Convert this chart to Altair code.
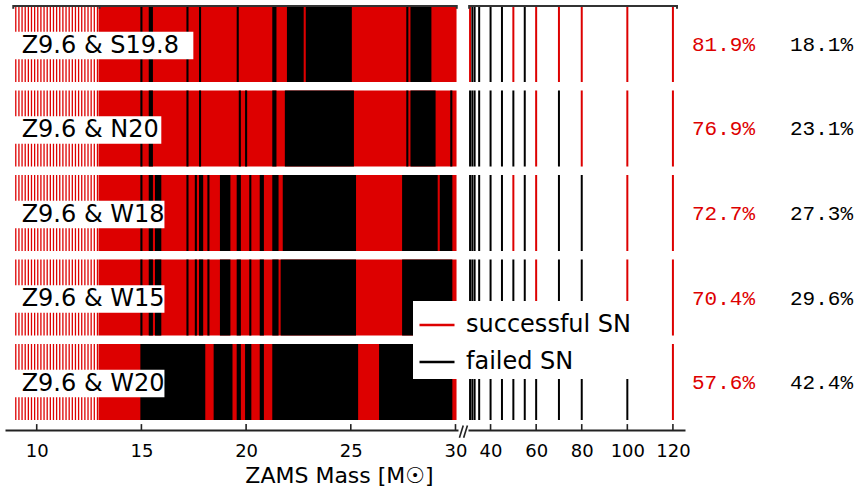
import altair as alt
import pandas as pd

RED = "#dd0000"
BLACK = "#000000"
SANS = "DejaVu Sans"
MONO = "Liberation Mono"

ROWS = ["Z9.6 & S19.8", "Z9.6 & N20", "Z9.6 & W18", "Z9.6 & W15", "Z9.6 & W20"]
SUCCESS_PCT = ["81.9%", "76.9%", "72.7%", "70.4%", "57.6%"]
FAILED_PCT = ["18.1%", "23.1%", "27.3%", "29.6%", "42.4%"]

# low-mass models (all successful with Z9.6)
LOW_MASSES = [9.0, 9.15, 9.3, 9.45, 9.6, 9.75, 9.9, 10.05, 10.2, 10.35, 10.5, 10.65, 10.8,
              10.95, 11.1, 11.25, 11.4, 11.55, 11.7, 11.85, 12.0, 12.15, 12.3, 12.45, 12.6,
              12.75, 12.9]

# 13-30 Msun models: range, and failed runs (first, last model mass) per row
MID_RANGE = (13.0, 30.0)
FAILED_MID = [
    [(15.0, 15.0), (15.4, 15.5), (17.2, 17.2), (17.8, 17.8), (19.6, 19.6), (21.3, 21.4),
     (22.0, 22.7), (22.9, 25.0), (27.7, 27.7), (27.9, 28.8)],
    [(15.0, 15.0), (15.4, 15.5), (17.2, 17.2), (17.8, 17.8), (19.7, 19.7), (20.0, 20.0),
     (21.3, 21.4), (21.9, 25.1), (27.7, 27.7), (27.9, 29.0), (29.8, 29.8)],
    [(15.0, 15.0), (15.4, 15.5), (15.7, 15.9), (17.2, 17.2), (17.6, 17.6), (17.8, 17.9),
     (18.2, 18.2), (18.8, 19.2), (19.6, 19.7), (20.2, 20.2), (20.7, 20.8), (21.3, 21.5),
     (21.8, 25.2), (27.5, 29.1), (29.3, 29.8)],
    [(15.0, 15.0), (15.4, 15.5), (15.7, 15.9), (17.2, 17.2), (17.6, 17.6), (17.8, 17.9),
     (18.2, 18.2), (18.8, 19.2), (19.6, 19.7), (20.2, 20.2), (20.7, 20.8), (21.3, 21.5),
     (21.7, 25.2), (27.5, 29.8)],
    [(15.0, 18.0), (18.5, 19.3), (19.6, 19.7), (20.0, 20.2), (20.7, 20.8), (21.3, 25.3),
     (26.4, 29.8)],
]

HIGH_MASSES = [31, 32, 33, 35, 40, 45, 50, 55, 60, 70, 80, 100, 120]
HIGH_OUTCOME = ["SFFFFFSFSSSSS", "FFFFFFFFSFSSS", "FFFFFFSFSFFSS", "FFFFFFFFSFFSS",
                "FFFFFFFFFFFFS"]

LEFT_TICKS = [10, 15, 20, 25, 30]
RIGHT_TICKS = [40, 60, 80, 100, 120]
LEFT_BRACKETS = [(8.88, 13.0), (13.0, 30.06)]
RIGHT_BRACKETS = [(30.6, 121.8)]
LABEL_BOX_END = [17.48, 15.95, 16.1, 16.1, 16.1]

SUCC, FAIL = "successful SN", "failed SN"
HALF = 0.45
HALF_STEP = 0.05
Y_TOP, Y_BOT = -0.4615, 4.568

ys = alt.Scale(domain=[Y_TOP, Y_BOT], reverse=True, nice=False, zero=False)
cs = alt.Scale(domain=[SUCC, FAIL], range=[RED, BLACK])

# ---------- tables ----------
stripes = pd.DataFrame([{"x": m, "y": r - HALF, "y2": r + HALF, "outcome": SUCC}
                        for r in range(5) for m in LOW_MASSES])
mid_rows = []
for r in range(5):
    mid_rows.append({"x": MID_RANGE[0] - HALF_STEP, "x2": MID_RANGE[1] + HALF_STEP,
                     "y": r - HALF, "y2": r + HALF, "outcome": SUCC})
    for lo, hi in FAILED_MID[r]:
        mid_rows.append({"x": lo - HALF_STEP, "x2": hi + HALF_STEP,
                         "y": r - HALF, "y2": r + HALF, "outcome": FAIL})
mid = pd.DataFrame(mid_rows)
high = pd.DataFrame([{"x": m, "y": r - HALF, "y2": r + HALF,
                      "outcome": SUCC if HIGH_OUTCOME[r][i] == "S" else FAIL}
                     for r in range(5) for i, m in enumerate(HIGH_MASSES)])
boxes = pd.DataFrame([{"x": 8.96, "x2": LABEL_BOX_END[r], "y": r - 0.146, "y2": r + 0.181}
                      for r in range(5)])
labels = pd.DataFrame([{"x": 9.28, "y": r, "label": ROWS[r]} for r in range(5)])
pct = pd.DataFrame([{"x": 0, "y": r, "label": SUCCESS_PCT[r], "outcome": SUCC} for r in range(5)]
                   + [{"x": 1, "y": r, "label": FAILED_PCT[r], "outcome": FAIL} for r in range(5)])

TICK_LEN = 0.07


def ticks_df(vals):
    return pd.DataFrame([{"x": v, "y": Y_BOT, "y2": Y_BOT - TICK_LEN} for v in vals])


axis_common = dict(ticks=False, grid=False, domainColor="#222222", domainWidth=1.8,
                   labelFont=SANS, labelFontSize=18, labelColor="black", labelPadding=12)

xl = alt.Scale(domain=[8.485, 30.12], nice=False, zero=False)
left_axis = alt.Axis(values=LEFT_TICKS, title="ZAMS Mass [M\u2609]", titleFont=SANS,
                     titleFontSize=22, titleFontWeight="normal", titleColor="black",
                     titleX=334, titleY=35, titleBaseline="top", **axis_common)
xr = alt.Scale(domain=[30.1, 125.3], nice=False, zero=False)
right_axis = alt.Axis(values=RIGHT_TICKS, title=None, **axis_common)

legend = alt.Legend(orient="none", legendX=408, legendY=296, title=None,
                    symbolType="stroke", symbolSize=1225, symbolStrokeWidth=2.5,
                    labelFont=SANS, labelFontSize=24, labelColor="black", labelOffset=10,
                    labelLimit=400, fillColor="white", padding=5, rowPadding=6, zindex=5)
color_enc = alt.Color("outcome:N", scale=cs, legend=legend)


def X(xs, ax):
    return alt.X("x:Q", scale=xs, axis=ax)


Y = alt.Y("y:Q", scale=ys, axis=None)


def brackets_layers(br, xs, ax):
    h = pd.DataFrame([{"x": a, "x2": b, "y": Y_TOP + 0.012} for a, b in br])
    ends = sorted(set([v for ab in br for v in ab]))
    v = pd.DataFrame([{"x": e, "y": Y_TOP, "y2": Y_TOP + 0.045} for e in ends])
    l1 = alt.Chart(h).mark_rule(color="#333333", strokeWidth=2).encode(
        x=X(xs, ax), x2="x2:Q", y=Y)
    l2 = alt.Chart(v).mark_rule(color="#333333", strokeWidth=2).encode(
        x=X(xs, ax), y=Y, y2="y2:Q")
    return [l1, l2]


# ---------- left panel ----------
l_stripes = alt.Chart(stripes).mark_rule(strokeWidth=1.3).encode(
    x=X(xl, left_axis), y=Y, y2="y2:Q", color=color_enc)
l_mid = alt.Chart(mid).mark_rect(strokeWidth=0).encode(
    x=X(xl, left_axis), x2="x2:Q", y=Y, y2="y2:Q", color=color_enc)
l_box = alt.Chart(boxes).mark_rect(color="white").encode(
    x=X(xl, left_axis), x2="x2:Q", y=Y, y2="y2:Q")
l_lab = alt.Chart(labels).mark_text(align="left", baseline="alphabetic", dy=8.7,
                                    font=SANS, fontSize=24, color="black").encode(
    x=X(xl, left_axis), y=Y, text="label:N")
l_ticks = alt.Chart(ticks_df(LEFT_TICKS)).mark_rule(color="#222222", strokeWidth=1.6).encode(
    x=X(xl, left_axis), y=Y, y2="y2:Q")
brk = pd.DataFrame([{"x": 30.19, "x2": 30.37, "y": 4.66, "y2": 4.515},
                    {"x": 30.39, "x2": 30.57, "y": 4.66, "y2": 4.515}])
l_break = alt.Chart(brk).mark_rule(color="#222222", strokeWidth=1.6).encode(
    x=X(xl, left_axis), x2="x2:Q", y=Y, y2="y2:Q")

left = alt.layer(l_stripes, l_mid, l_box, l_lab, l_ticks, l_break,
                 *brackets_layers(LEFT_BRACKETS, xl, left_axis)).properties(width=453, height=425)

# ---------- right panel ----------
r_lines = alt.Chart(high).mark_rule(strokeWidth=2).encode(
    x=X(xr, right_axis), y=Y, y2="y2:Q", color=color_enc)
r_ticks = alt.Chart(ticks_df(RIGHT_TICKS)).mark_rule(color="#222222", strokeWidth=1.6).encode(
    x=X(xr, right_axis), y=Y, y2="y2:Q")
right = alt.layer(r_lines, r_ticks, *brackets_layers(RIGHT_BRACKETS, xr, right_axis)).properties(
    width=217, height=425)

# ---------- percentages ----------
xt = alt.Scale(domain=[0, 1], nice=False, zero=False)
texts = alt.Chart(pct).mark_text(align="left", baseline="alphabetic", dx=-3, dy=7,
                                 font=MONO, fontSize=21).encode(
    x=alt.X("x:Q", scale=xt, axis=None), y=Y,
    text="label:N", color=color_enc
).properties(width=98, height=425)

chart = alt.hconcat(left, right, texts, spacing=10, bounds="flush").resolve_scale(
    color="shared", x="independent", y="shared"
).configure_view(strokeWidth=0).properties(
    padding={"left": 5, "top": 4, "right": 0, "bottom": 0}, background="white")

chart.save("out.html", embed_options={"renderer": "svg", "actions": False})
